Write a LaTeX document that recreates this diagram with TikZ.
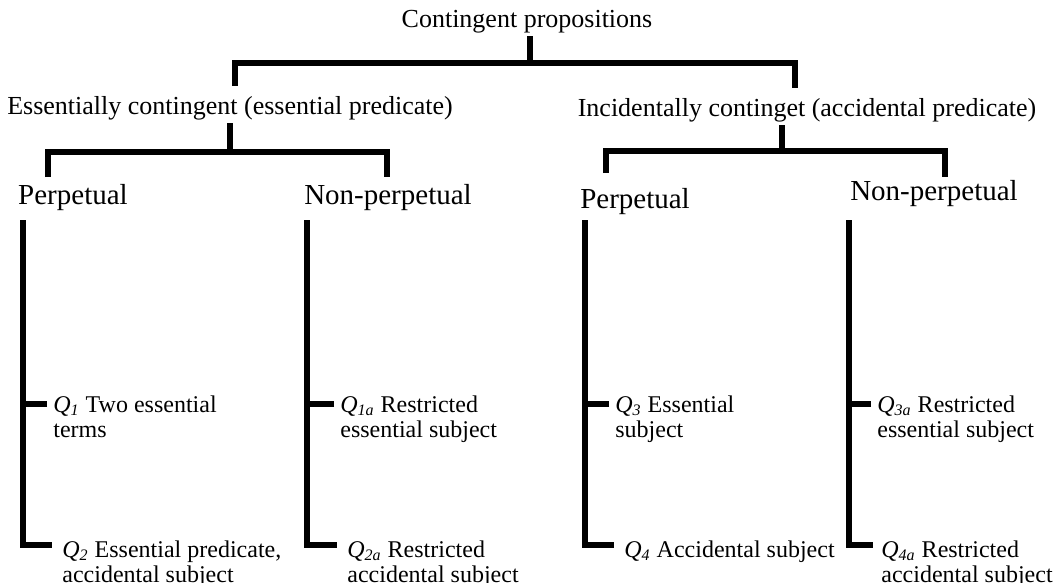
\documentclass[tikz,border=0pt]{standalone}
\usepackage{fontspec}
\setmainfont{Liberation Serif}
\newcommand{\qlab}[1]{\textit{Q}\textsubscript{\textit{#1}}}
\newcommand{\qtext}[1]{\begin{tabular}[t]{@{}l@{}}#1\end{tabular}}

\begin{document}
\begin{tikzpicture}[x=.5pt,y=-.5pt,
	bar/.style={line width=3pt},
	head/.style={font=\fontsize{13}{15}\selectfont,inner sep=1pt,anchor=base},
	kind/.style={font=\fontsize{14.5}{17}\selectfont,inner sep=1pt,anchor=base},
	case/.style={font=\fontsize{12}{12.5}\selectfont,inner sep=0pt,anchor=base west}]
	\useasboundingbox (0,0) rectangle (1054,583);
	\node[head] (cp) at (527,28) {Contingent propositions};
	\node[head] (ess) at (230,115) {Essentially contingent (essential predicate)};
	\node[head] (inc) at (807,117) {Incidentally continget (accidental predicate)};
	\node[kind] (perp1) at (73,204) {Perpetual};
	\node[kind] (non1) at (388,204) {Non-perpetual};
	\node[kind] (perp2) at (635,208) {Perpetual};
	\node[kind] (non2) at (934,200) {Non-perpetual};
	\node[case] (q1) at (53,412) {\qtext{\qlab{1} Two essential\\terms}};
	\node[case] (q2) at (62,557) {\qtext{\qlab{2} Essential predicate,\\accidental subject}};
	\node[case] (q1a) at (340,412) {\qtext{\qlab{1a} Restricted\\essential subject}};
	\node[case] (q2a) at (347,557) {\qtext{\qlab{2a} Restricted\\accidental subject}};
	\node[case] (q3) at (615,412) {\qtext{\qlab{3} Essential\\subject}};
	\node[case] (q4) at (624,557) {\qtext{\qlab{4} Accidental subject}};
	\node[case] (q3a) at (877,412) {\qtext{\qlab{3a} Restricted\\essential subject}};
	\node[case] (q4a) at (881,557) {\qtext{\qlab{4a} Restricted\\accidental subject}};
	\coordinate (j0) at (530,63);
	\coordinate (e0) at (235,86);
	\coordinate (i0) at (795,88);
	\draw[bar] (cp.south -| j0) -- (j0);
	\draw[bar] (e0) |- (j0) -| (i0);
	\coordinate (j1) at (230,152);
	\coordinate (p1) at (48,177);
	\coordinate (n1) at (387,177);
	\draw[bar] (ess.south -| j1) -- (j1);
	\draw[bar] (p1) |- (j1) -| (n1);
	\coordinate (j2) at (782,151);
	\coordinate (p2) at (606,173);
	\coordinate (n2) at (945,177);
	\draw[bar] (inc.south -| j2) -- (j2);
	\draw[bar] (p2) |- (j2) -| (n2);
	\coordinate (c1) at (23,220);
	\coordinate (c2) at (307,220);
	\coordinate (c3) at (585,220);
	\coordinate (c4) at (849,220);
	\draw[bar] (c1) |- ([shift={(-5pt,6pt)}]q2.base west);
	\draw[bar] ([shift={(-3pt,4pt)}]q1.base west) coordinate (s1) -- (s1 -| c1);
	\draw[bar] (c2) |- ([shift={(-5pt,6pt)}]q2a.base west);
	\draw[bar] ([shift={(-3pt,4pt)}]q1a.base west) coordinate (s2) -- (s2 -| c2);
	\draw[bar] (c3) |- ([shift={(-5pt,6pt)}]q4.base west);
	\draw[bar] ([shift={(-3pt,4pt)}]q3.base west) coordinate (s3) -- (s3 -| c3);
	\draw[bar] (c4) |- ([shift={(-4pt,6pt)}]q4a.base west);
	\draw[bar] ([shift={(-3pt,4pt)}]q3a.base west) coordinate (s4) -- (s4 -| c4);
\end{tikzpicture}
\end{document}
